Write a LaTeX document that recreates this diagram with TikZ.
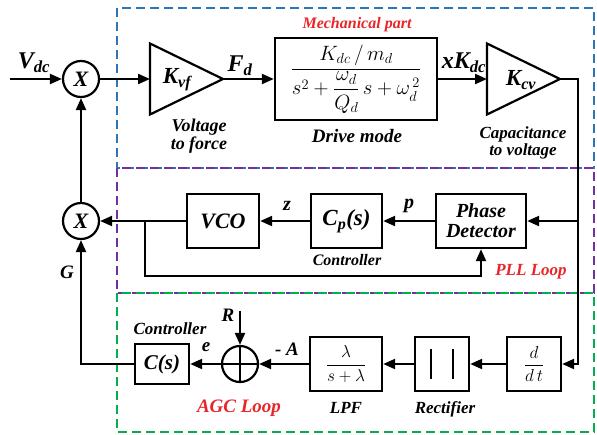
\documentclass[tikz,border=0pt]{standalone}
\usepackage{fontspec}
\setmainfont{Liberation Serif}
\usepackage{amsmath}
\usepackage{tikz}
\usetikzlibrary{arrows.meta,shapes.geometric}
\definecolor{mechBlue}{HTML}{2E75B6}
\definecolor{pllPurple}{HTML}{7030A0}
\definecolor{agcGreen}{HTML}{00B050}
\definecolor{loopRed}{HTML}{E8262A}
\newcommand{\fsz}[1]{\fontsize{#1}{#1}\selectfont}

\begin{document}
\begin{tikzpicture}[x=1pt,y=-1pt,line width=2.2pt,
  >={Triangle[length=12pt,width=10pt]},
  blk/.style={draw,rectangle,line width=2.4pt,inner sep=0pt},
  amp/.style={draw,isosceles triangle,isosceles triangle stretches,
    minimum width=71pt,minimum height=73pt,inner sep=0pt,outer sep=0pt},
  mult/.style={draw,circle,minimum size=36pt,inner sep=0pt,font=\fsz{22}\bfseries\itshape},
  sumjn/.style={draw,circle,minimum size=36pt,inner sep=0pt,
    path picture={\draw (path picture bounding box.north) -- (path picture bounding box.south)
      (path picture bounding box.west) -- (path picture bounding box.east);}},
  zone/.style={line width=2.2pt,dash pattern=on 9pt off 5pt},
  sig/.style={font=\fsz{24}\bfseries\itshape},
  gain/.style={font=\fsz{23}\bfseries\itshape},
  note/.style={font=\fsz{18}\bfseries\itshape,align=center},
  tag/.style={font=\fsz{17}\bfseries\itshape,text=loopRed}]
\useasboundingbox (0,0) rectangle (597,434);
% --- loop zones ---
\draw[zone,mechBlue] (117,8) rectangle (594,168);
\draw[zone,pllPurple] (117,168) rectangle (594,293);
\draw[zone,agcGreen] (117,293) rectangle (594,432);
\node[tag,font=\fsz{16}\bfseries\itshape] (mechtag) at (357,25) {Mechanical part};
\node[tag] (plltag) at (531,272) {PLL Loop};
\node[tag,font=\fsz{19}\bfseries\itshape] (agctag) at (239,408) {AGC Loop};

% --- forward path ---
\coordinate (vdcin) at (10,79);
\node[mult] (mult1) at (81,79) {X};
\node[amp,anchor=apex] (kvf) at (223,79) {};
\node[gain] at (177,80) {K\textsubscript{vf}};
\node[blk,minimum width=162pt,minimum height=82pt] (drive) at (356,79)
  {\fsz{20}$\displaystyle\frac{K_{dc}\,/\,m_d}{s^2+\dfrac{\omega_d}{Q_d}\,s+\omega_d^{\,2}}$};
\node[amp,anchor=apex] (kcv) at (560,79) {};
\node[gain] at (521,80) {K\textsubscript{cv}};
\coordinate (turn) at (578,79);
\coordinate (tap) at (578,221);
\coordinate (turnlow) at (578,364);

\node[sig] (vdclbl) at (34,63) {V\textsubscript{dc}};
\node[sig] (fdlbl) at (240,66) {F\textsubscript{d}};
\node[sig] (xklbl) at (464,63) {xK\textsubscript{dc}};
\node[note,font=\fsz{18}\bfseries\itshape] (v2f) at (199,136) {\baselineskip=24pt Voltage\\to force};
\node[note,font=\fsz{19}\bfseries\itshape] (drvlbl) at (357,136) {Drive mode};
\node[note,font=\fsz{17}\bfseries\itshape] (c2v) at (523,143) {\baselineskip=20pt Capacitance\\to voltage};

% --- PLL row ---
\node[mult] (mult2) at (81,221) {X};
\node[blk,minimum width=72pt,minimum height=54pt,font=\fsz{22}\bfseries\itshape] (vco) at (223,221) {VCO};
\node[blk,minimum width=71pt,minimum height=54pt,font=\fsz{23}\bfseries\itshape] (cp) at (346.5,221) {C\textsubscript{p}(s)};
\node[blk,minimum width=90pt,minimum height=54pt,font=\fsz{20}\bfseries\itshape,align=center] (pd) at (481,221)
  {\baselineskip=22pt Phase\\Detector};
\coordinate (branch) at (145,221);
\coordinate (fbk) at (145,276);
\node[sig,font=\fsz{20}\bfseries\itshape] (zlbl) at (287,206) {z};
\node[sig,font=\fsz{20}\bfseries\itshape] (plbl) at (409,206) {p};
\node[note,font=\fsz{16}\bfseries\itshape] (pctrl) at (347,260) {Controller};
\node[sig,font=\fsz{19}\bfseries\itshape] (glbl) at (67,272) {G};

% --- AGC row ---
\node[blk,minimum width=54pt,minimum height=40pt,font=\fsz{21}\bfseries\itshape] (cs) at (162,364) {C(s)};
\node[sumjn] (csum) at (240,364) {};
\node[blk,minimum width=72pt,minimum height=54pt] (lpf) at (346,364) {\fsz{19}$\displaystyle\frac{\lambda}{s+\lambda}$};
\node[blk,minimum width=54pt,minimum height=54pt] (rect) at (442,364) {};
\node[blk,minimum width=54pt,minimum height=54pt] (ddt) at (534,364) {\fsz{19}$\displaystyle\frac{d}{d\,t}$};
\coordinate (rin) at (240,311);
\node[sig,font=\fsz{19}\bfseries\itshape] (rlbl) at (228,315) {R};
\node[sig,font=\fsz{19}\bfseries\itshape] (elbl) at (206,347) {e};
\node[sig,font=\fsz{19}\bfseries\itshape] (albl) at (287,349) {- A};
\node[note,font=\fsz{17}\bfseries\itshape] (actrl) at (170,329) {Controller};
\node[note,font=\fsz{17}\bfseries\itshape] (lpflbl) at (346,408) {LPF};
\node[note,font=\fsz{17}\bfseries\itshape] (rectlbl) at (445,409) {Rectifier};
\draw ([xshift=-11pt,yshift=15pt]rect.center) -- ([xshift=-11pt,yshift=-15pt]rect.center);
\draw ([xshift=11pt,yshift=15pt]rect.center) -- ([xshift=11pt,yshift=-15pt]rect.center);

% --- connectors ---
\draw[->] (vdcin) -- (mult1);
\draw[->] (mult1) -- (kvf.west);
\draw[->] (kvf.apex) -- (drive);
\draw[->] (drive) -- (kcv.west);
\draw[->] (kcv.apex) -- (turn) -- (turnlow) -- (ddt.east);
\draw[->] (tap) -- (pd.east);
\draw[->] (pd) -- (cp);
\draw[->] (cp) -- (vco);
\draw[->] (vco) -- (mult2);
\draw[->] (branch) -- (fbk) -| (pd.south);
\draw[->] (mult2) -- (mult1);
\draw[->] (ddt) -- (rect);
\draw[->] (rect) -- (lpf);
\draw[->] (lpf) -- (csum);
\draw[->] (rin) -- (csum);
\draw[->] (csum) -- (cs);
\draw[->] (cs.west) -| (mult2.south);
\end{tikzpicture}
\end{document}
